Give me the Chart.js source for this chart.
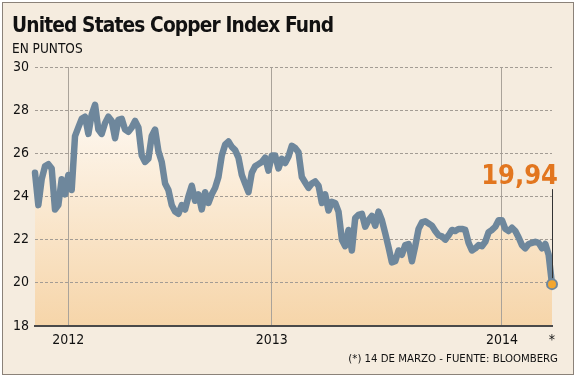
<!DOCTYPE html>
<html>
<head>
<meta charset="utf-8">
<script src="https://cdn.jsdelivr.net/npm/chart.js@4.4.1/dist/chart.umd.min.js"></script>
<style>
  html, body { margin: 0; padding: 0; background: #fff; }
  #frame { position: absolute; left: 2px; top: 2px; width: 570px; height: 371px; border: 1px solid #8b8279; background: #f5ecdf; }
  #wrap { position: absolute; left: 0; top: 0; width: 576px; height: 377px; }
  .t { position: absolute; font-family: "DejaVu Sans Condensed", "DejaVu Sans", sans-serif; color: #111; white-space: nowrap; }
  #title { left: 12px; top: 14px; font-size: 22px; line-height: 22px; font-weight: bold; letter-spacing: -0.9px; transform: scaleX(0.94); transform-origin: 0 0; }
  #sub { left: 12px; top: 42px; font-size: 13.5px; line-height: 13.5px; }
  #foot { right: 18px; top: 353px; font-size: 11.3px; line-height: 11px; }
</style>
</head>
<body>
<div id="frame"></div>
<div id="wrap"><canvas id="chart" width="576" height="377"></canvas></div>
<div class="t" id="title">United States Copper Index Fund</div>
<div class="t" id="sub">EN PUNTOS</div>
<div class="t" id="foot">(*) 14 DE MARZO - FUENTE: BLOOMBERG</div>

<script>
// weekly closes (late 2011 -> 14 Mar 2014)
const values = [
  25.1, 23.6, 24.8, 25.4, 25.5, 25.3, 23.4, 23.6, 24.8, 24.1,
  25.0, 24.3, 26.8, 27.2, 27.6, 27.7, 26.9, 27.8, 28.25, 27.1,
  26.9, 27.4, 27.7, 27.5, 26.7, 27.55, 27.6, 27.1, 27.0, 27.2,
  27.5, 27.2, 25.9, 25.6, 25.75, 26.8, 27.1, 26.1, 25.6, 24.6,
  24.3, 23.6, 23.3, 23.2, 23.6, 23.4, 24.0, 24.5, 23.8, 24.1,
  23.4, 24.2, 23.7, 24.1, 24.4, 24.9, 25.9, 26.4, 26.55, 26.3,
  26.15, 25.8, 25.0, 24.6, 24.2, 25.1, 25.4, 25.5, 25.6, 25.8,
  25.2, 25.9, 25.9, 25.3, 25.75, 25.55, 25.85, 26.35, 26.25, 26.05,
  24.9, 24.65, 24.4, 24.6, 24.7, 24.5, 23.7, 24.1, 23.35, 23.75,
  23.7, 23.3, 22.0, 21.7, 22.45, 21.5, 23.0, 23.15, 23.2, 22.6,
  22.9, 23.1, 22.65, 23.3, 22.9, 22.3, 21.65, 20.95, 21.0, 21.5,
  21.3, 21.75, 21.8, 21.0, 21.7, 22.5, 22.8, 22.85, 22.75, 22.65,
  22.4, 22.2, 22.15, 22.0, 22.2, 22.45, 22.4, 22.5, 22.5, 22.45,
  21.85, 21.5, 21.6, 21.75, 21.7, 21.9, 22.35, 22.45, 22.6, 22.9,
  22.9, 22.5, 22.4, 22.55, 22.4, 22.1, 21.75, 21.6, 21.8, 21.85,
  21.9, 21.85, 21.6, 21.8, 21.3, 19.94
];
const yearTicks = ['2012', '2013', '2014'];
const yearIndex = [10, 71, 140];
const endTick = '*';
const endValueText = '19,94';

const lastIdx = values.length - 1;
const labels = values.map((v, i) => {
  const k = yearIndex.indexOf(i);
  if (k >= 0) return yearTicks[k];
  return i === lastIdx ? endTick : '';
});

const FONT = '"DejaVu Sans Condensed", "DejaVu Sans", sans-serif';
const LINE = '#6e879c';

const endLabel = {
  id: 'endLabel',
  afterDatasetsDraw(chart) {
    const meta = chart.getDatasetMeta(0);
    const pt = meta.data[lastIdx];
    const c = chart.ctx;
    c.save();
    c.strokeStyle = '#333';
    c.lineWidth = 1;
    c.beginPath();
    c.moveTo(Math.round(pt.x) + 0.5, pt.y - 95);
    c.lineTo(Math.round(pt.x) + 0.5, pt.y - 6);
    c.stroke();
    c.fillStyle = '#e2761f';
    c.font = 'bold 27px ' + FONT;
    c.textAlign = 'right';
    c.textBaseline = 'alphabetic';
    c.fillText(endValueText, pt.x + 6, pt.y - 100);
    c.restore();
  }
};

new Chart(document.getElementById('chart'), {
  type: 'line',
  data: {
    labels: labels,
    datasets: [{
      data: values,
      borderColor: LINE,
      borderWidth: 6.5,
      borderJoinStyle: 'round',
      borderCapStyle: 'round',
      tension: 0,
      clip: false,
      pointRadius: ctx => ctx.dataIndex === lastIdx ? 5 : 0,
      pointHoverRadius: 0,
      pointBackgroundColor: '#f3a62f',
      pointBorderColor: LINE,
      pointBorderWidth: 2,
      fill: 'start',
      backgroundColor: ctx => {
        const a = ctx.chart.chartArea;
        if (!a) return 'rgba(0,0,0,0)';
        const g = ctx.chart.ctx.createLinearGradient(0, a.top, 0, a.bottom);
        g.addColorStop(0, '#ffffff');
        g.addColorStop(1, '#f6d5a9');
        return g;
      }
    }]
  },
  options: {
    responsive: false,
    animation: false,
    layout: { padding: { top: 67, right: 24, left: 0, bottom: 0 } },
    plugins: {
      legend: { display: false },
      tooltip: { enabled: false },
      filler: { drawTime: 'beforeDraw' }
    },
    scales: {
      x: {
        type: 'category',
        afterFit: s => { s.height = 51; },
        grid: {
          drawTicks: false,
          color: ctx => yearIndex.includes(ctx.index) ? '#aaa39a' : 'rgba(0,0,0,0)',
          lineWidth: 1
        },
        border: { display: true, color: '#4a4a4a', width: 2 },
        ticks: {
          autoSkip: false,
          maxRotation: 0,
          minRotation: 0,
          padding: 6,
          color: '#111',
          font: { family: FONT, size: 14 }
        }
      },
      y: {
        min: 18,
        max: 30,
        afterFit: s => { s.width = 35; },
        grid: {
          drawTicks: false,
          color: ctx => ctx.tick.value === 18 ? 'rgba(0,0,0,0)' : '#a39c94',
          lineWidth: 1
        },
        border: { display: false, dash: [3, 2] },
        ticks: {
          stepSize: 2,
          padding: 6,
          color: '#111',
          font: { family: FONT, size: 14 }
        }
      }
    }
  },
  plugins: [endLabel]
});
</script>
</body>
</html>
